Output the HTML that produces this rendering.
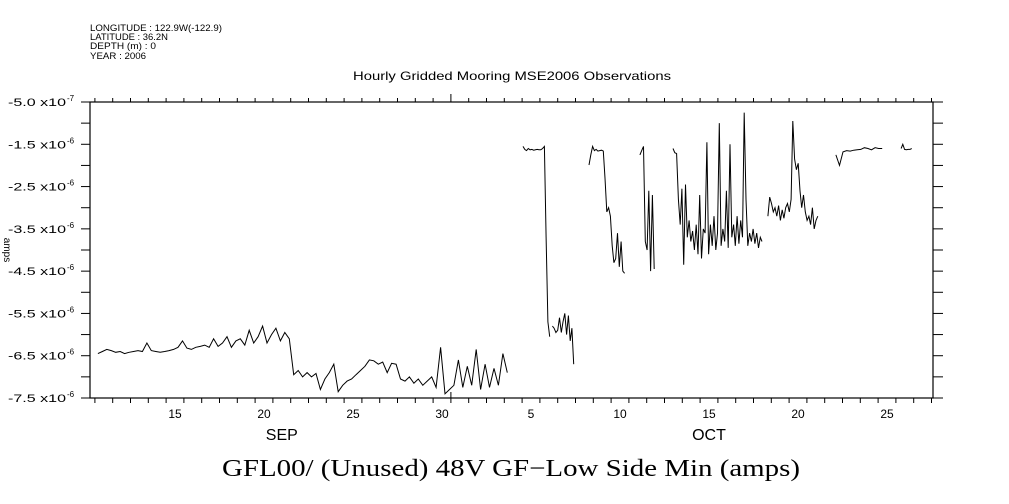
<!DOCTYPE html>
<html><head><meta charset="utf-8"><style>
html,body{margin:0;padding:0;background:#fff;}
svg{display:block;}
</style></head><body>
<svg id="chart" width="1009" height="504" viewBox="0 0 1009 504" xmlns="http://www.w3.org/2000/svg" font-family="'Liberation Sans', sans-serif">
<g font-size="9" fill="#000">
<text x="90" y="31" textLength="132" lengthAdjust="spacingAndGlyphs">LONGITUDE : 122.9W(-122.9)</text>
<text x="90" y="40" textLength="78" lengthAdjust="spacingAndGlyphs">LATITUDE : 36.2N</text>
<text x="90" y="49" textLength="66" lengthAdjust="spacingAndGlyphs">DEPTH (m) : 0</text>
<text x="90" y="59" textLength="56" lengthAdjust="spacingAndGlyphs">YEAR : 2006</text>
</g>
<text x="353" y="80" font-size="12" textLength="318" lengthAdjust="spacingAndGlyphs">Hourly Gridded Mooring MSE2006 Observations</text>
<text x="222" y="476" font-size="24" textLength="578" lengthAdjust="spacingAndGlyphs" font-family="'Liberation Serif', serif">GFL00/ (Unused) 48V GF−Low Side Min (amps)</text>
<text transform="translate(4,250) rotate(90)" font-size="10" text-anchor="middle">amps</text>
<g id="axes"></g>
<g id="series"></g>
</svg>
<script>
// Y tick values (units of 1e-6)
const yMajorTicks = [-0.5, -1.5, -2.5, -3.5, -4.5, -5.5, -6.5, -7.5];
const yMajorLabels = ["-5.0", "-1.5", "-2.5", "-3.5", "-4.5", "-5.5", "-6.5", "-7.5"];
const yLabelExps = ["-7", "-6", "-6", "-6", "-6", "-6", "-6", "-6"];
// X labels: day-of-period (Sep 1 00:00 = 0); label placed at noon
const xLabelDays = [14.5, 19.5, 24.5, 29.5, 34.5, 39.5, 44.5, 49.5, 54.5];
const xLabelText = ["15", "20", "25", "30", "5", "10", "15", "20", "25"];
const monthLabelDays = [20.5, 44.5];
const monthLabelText = ["SEP", "OCT"];
// Series segments: start time (days), step (days), values (x1e-6)
const segStarts = [10.17, 34.05, 35.7, 37.76, 40.62, 42.48, 47.81, 51.63, 55.29];
const segSteps = [0.25, 0.1, 0.1, 0.1, 0.1, 0.1, 0.1, 0.2, 0.1];
const seg0 = [-6.45,-6.40,-6.35,-6.38,-6.42,-6.40,-6.45,-6.42,-6.40,-6.38,-6.40,-6.20,-6.38,-6.40,-6.42,-6.40,
 -6.38,-6.35,-6.30,-6.15,-6.32,-6.35,-6.30,-6.28,
 -6.25,-6.30,-6.10,-6.28,-6.20,-6.05,-6.30,-6.15,
 -6.10,-6.25,-5.90,-6.20,-6.05,-5.80,-6.20,-6.00,-5.85,-6.15,-5.95,-6.10,
 -6.95,-6.85,-7.00,-6.90,-7.00,-6.92,-7.30,-7.05,-6.90,-6.70,-7.35,-7.20,-7.10,-7.05,-6.95,-6.85,
 -6.75,-6.60,-6.62,-6.70,-6.65,-6.90,-6.68,-6.70,-7.05,-7.10,-7.00,-7.15,-7.05,-7.20,-7.10,-7.00,
 -7.25,-6.30,-7.40,-7.30,-7.20,-6.60,-7.25,-6.75,-7.20,-6.35,-7.30,-6.70,-7.25,-6.80,-7.20,-6.45,-6.90];
const seg1 = [-1.55,-1.62,-1.65,-1.60,-1.63,-1.62,-1.64,-1.63,-1.62,-1.63,-1.63,-1.60,-1.55,-3.70,-5.70,-6.05];
const seg2 = [-5.80,-5.85,-5.95,-5.90,-5.60,-5.95,-5.70,-5.50,-6.00,-5.55,-6.15,-5.85,-6.70];
const seg3 = [-1.99,-1.75,-1.55,-1.65,-1.62,-1.66,-1.65,-1.64,-1.66,-2.30,-3.10,-3.00,-3.20,-3.90,-4.30,-4.20,-3.60,-4.40,-3.80,-4.50,-4.55];
const seg4 = [-1.75,-1.65,-1.55,-3.80,-4.00,-2.60,-4.50,-2.70,-4.45];
const seg5 = [-1.60,-1.70,-1.72,-2.80,-3.40,-2.55,-4.35,-2.45,-3.70,-3.30,-3.80,-3.55,-4.00,-3.40,-4.10,-2.70,
 -4.20,-3.50,-3.60,-1.45,-4.10,-3.40,-3.90,-3.20,-4.00,-3.60,-1.00,-3.90,-3.50,-3.80,-2.60,-3.95,-1.50,
 -3.70,-3.40,-3.90,-3.20,-3.85,-3.30,-3.70,-0.75,-2.80,-3.90,-3.60,-3.80,-3.50,-3.85,-3.60,-3.95,-3.70,-3.80];
const seg6 = [-3.20,-2.75,-2.90,-3.10,-3.00,-3.20,-2.95,-3.30,-3.05,-3.25,-3.00,-2.90,-3.10,-2.80,-0.95,-1.85,
 -2.10,-1.95,-2.60,-3.00,-2.70,-3.10,-3.30,-3.20,-3.40,-3.00,-3.50,-3.30,-3.20];
const seg7 = [-1.75,-2.00,-1.68,-1.65,-1.66,-1.64,-1.63,-1.62,-1.58,-1.60,-1.63,-1.58,-1.60,-1.60];
const seg8 = [-1.60,-1.50,-1.62,-1.63,-1.62,-1.62,-1.60];
const segValues = [seg0, seg1, seg2, seg3, seg4, seg5, seg6, seg7, seg8];

const L = 90, R = 933, T = 102, B = 398;
const xScale = t => 175 + (t - 14.5) * 17.8;
const yScale = v => T + (-0.5 - v) * (B - T) / 7;
const NS = "http://www.w3.org/2000/svg";
const axes = document.getElementById('axes');
const series = document.getElementById('series');
function mk(tag, attrs, parent) {
  const e = document.createElementNS(NS, tag);
  for (const k in attrs) e.setAttribute(k, attrs[k]);
  parent.appendChild(e);
  return e;
}
const frame = mk('rect', {x: L, y: T, width: R - L, height: B - T, fill: 'none', stroke: '#000', 'stroke-width': 1.2}, axes);


for (let v = -0.5; v >= -7.5 - 1e-9; v -= 0.5) {
  const y = yScale(v);
  const tl = mk('line', {x1: L - 9, x2: L, y1: y, y2: y, stroke: '#000'}, axes);
  
  
  const tr = mk('line', {x1: R, x2: R + 10, y1: y, y2: y, stroke: '#000'}, axes);
  
  
}
yMajorTicks.forEach((v, i) => {
  const y = yScale(v);
  const t = mk('text', {x: 8, y: y + 4, 'font-size': 11, textLength: 58, lengthAdjust: 'spacingAndGlyphs'}, axes);
  t.textContent = yMajorLabels[i] + "  x10";
  
  
  const s = mk('text', {x: 67, y: y - 1, 'font-size': 8}, axes);
  s.textContent = yLabelExps[i];
  
  
});
for (let d = 10; d <= 57; d++) {
  const x = xScale(d);
  if (x < L || x > R) continue;
  const major = d === 30;
  const b = mk('line', {x1: x, x2: x, y1: major ? B - 6 : B, y2: B + 5, stroke: '#000'}, axes);
  
  
  const tp = mk('line', {x1: x, x2: x, y1: T - (major ? 8 : 4), y2: T, stroke: '#000'}, axes);
  
  
}
xLabelDays.forEach((d, i) => {
  const t = mk('text', {x: xScale(d), y: 418, 'font-size': 12, 'text-anchor': 'middle'}, axes);
  t.textContent = xLabelText[i];
  
  
});
monthLabelDays.forEach((d, i) => {
  const t = mk('text', {x: xScale(d), y: 440, 'font-size': 16, 'text-anchor': 'middle'}, axes);
  t.textContent = monthLabelText[i];
  
  
});
segValues.forEach((vals, s) => {
  const pts = vals.map((v, i) => xScale(segStarts[s] + i * segSteps[s]).toFixed(1) + ',' + yScale(v).toFixed(1)).join(' ');
  const pl = mk('polyline', {points: pts, fill: 'none', stroke: '#000', 'stroke-width': 1}, series);
  
  
});
</script>
</body></html>
